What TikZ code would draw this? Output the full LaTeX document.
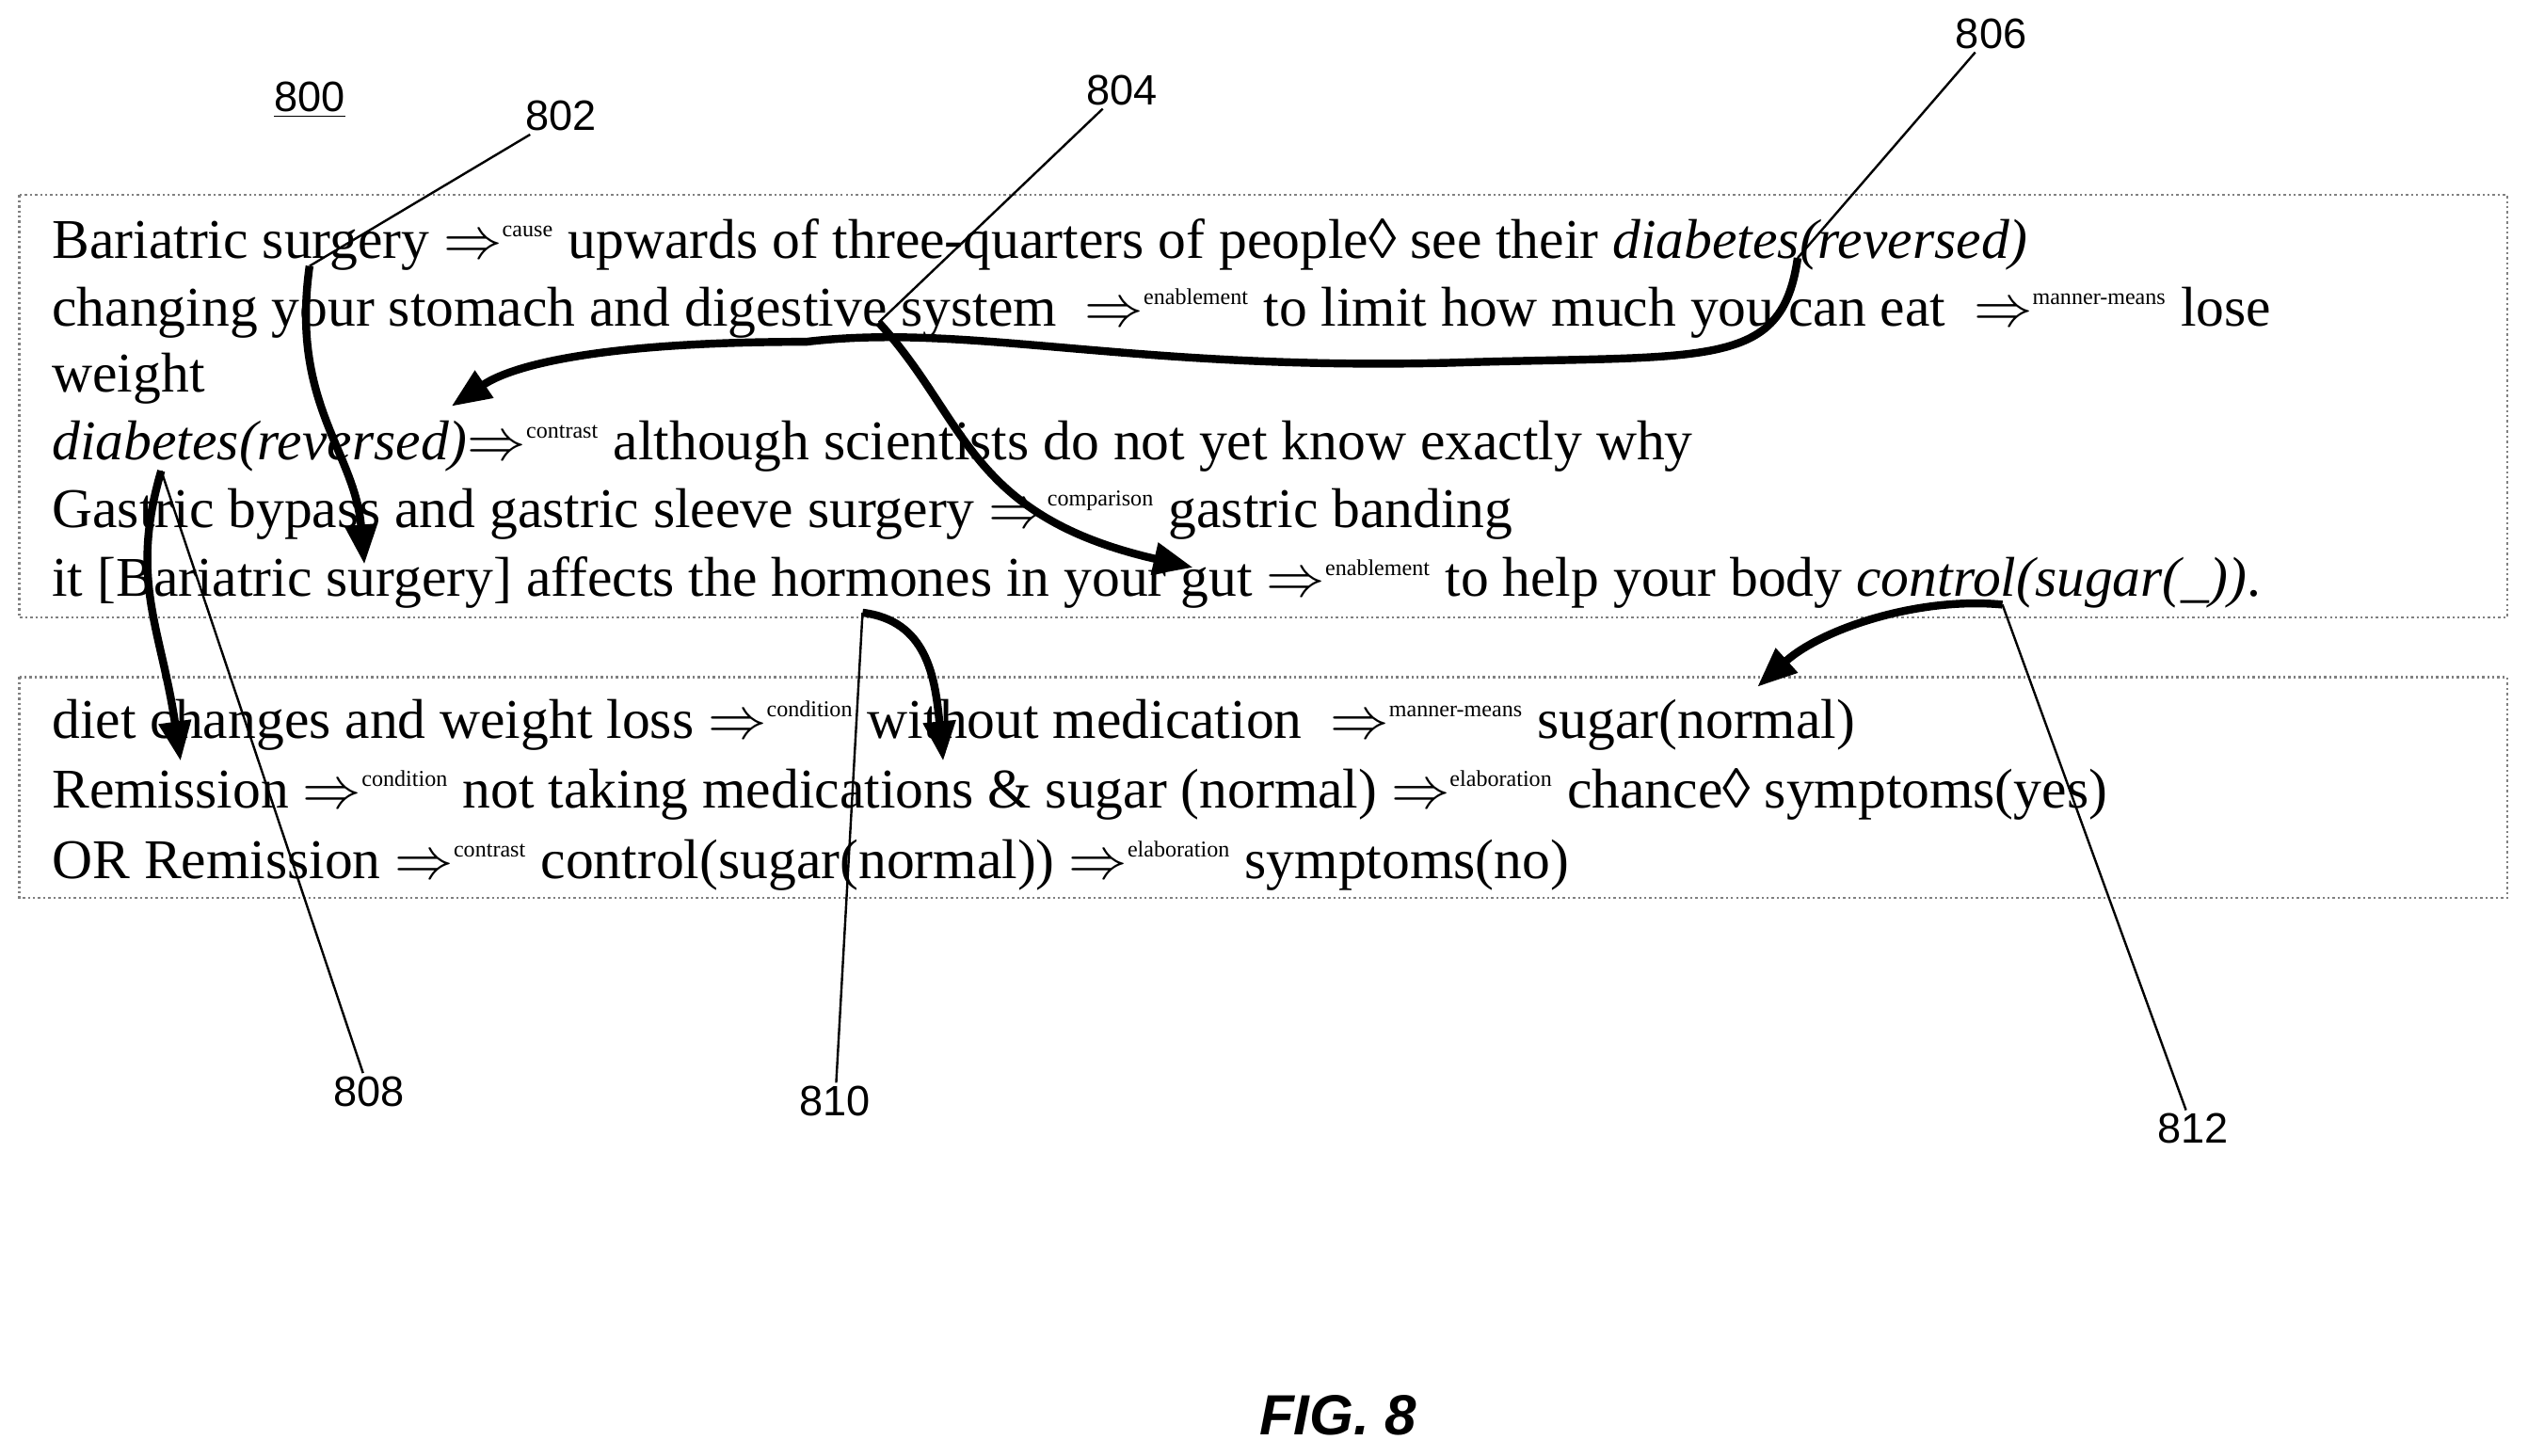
\documentclass[tikz,border=0pt]{standalone}
\usepackage{fontspec}
\setmainfont{Liberation Serif}
\newfontfamily\figfont{Liberation Sans}
\usetikzlibrary{arrows.meta}
\newcommand{\rel}[1]{$\Rightarrow$\textsuperscript{\footnotesize #1}}

\begin{document}
\begin{tikzpicture}[x=0.02cm,y=-0.02cm,
    txt/.style={anchor=base west,inner sep=0pt,font=\fontsize{19.8}{23}\selectfont},
    lbl/.style={inner sep=1pt,font=\figfont\fontsize{15}{18}\selectfont},
    frame/.style={draw=gray,densely dotted,line width=0.8pt},
    lead/.style={line width=0.8pt},
    link/.style={line width=2.8pt,-{Triangle[length=14pt,width=11pt]}}]
  \useasboundingbox (0,0) rectangle (1568,903);
  \draw[frame] (12,121) rectangle (1555,383);
  \draw[frame] (12,420) rectangle (1555,557);

  % upper box
  \node[txt] (l1) at (32,160) {Bariatric surgery \rel{cause} upwards of three-quarters of people◊ see their \textit{diabetes(reversed)}};
  \node[txt] (l2) at (32,202) {changing your stomach and digestive system \ \rel{enablement} to limit how much you can eat \ \rel{manner-means} lose};
  \node[txt] (l2b) at (32,243) {weight};
  \node[txt] (l3) at (32,285) {\textit{diabetes(reversed)}\rel{contrast} although scientists do not yet know exactly why};
  \node[txt] (l4) at (32,327) {Gastric bypass and gastric sleeve surgery \rel{comparison} gastric banding};
  \node[txt] (l5) at (32,370) {it [Bariatric surgery] affects the hormones in your gut \rel{enablement} to help your body \textit{control(sugar(\_))}.};
  % lower box
  \node[txt] (m1) at (32,458) {diet changes and weight loss \rel{condition} without medication \ \rel{manner-means} sugar(normal)};
  \node[txt] (m2) at (32,501) {Remission \rel{condition} not taking medications \& sugar (normal) \rel{elaboration} chance◊ symptoms(yes)};
  \node[txt] (m3) at (32,545) {OR Remission \rel{contrast} control(sugar(normal)) \rel{elaboration} symptoms(no)};

  % reference numerals
  \node[lbl] (n800) at (192,62) {\underline{800}};
  \node[lbl] (n802) at (348,72) {802};
  \node[lbl] (n804) at (696,56) {804};
  \node[lbl] (n806) at (1235,21) {806};
  \node[lbl] (n808) at (229,677) {808};
  \node[lbl] (n810) at (518,683) {810};
  \node[lbl] (n812) at (1360,700) {812};
  \node[font=\figfont\bfseries\itshape\fontsize{20}{24}\selectfont] (fig) at (830,878) {FIG. 8};

  \coordinate (p802) at (192,165);
  \coordinate (p804) at (545,200);
  \coordinate (p806) at (1115,160);
  \coordinate (p808) at (100,292);
  \coordinate (p810) at (535,380);
  \coordinate (p812) at (1242,375);

  \draw[lead] (n802) -- (p802);
  \draw[lead] (n804) -- (p804);
  \draw[lead] (n806) -- (p806);
  \draw[lead] (n808) -- (p808);
  \draw[lead] (n810) -- (p810);
  \draw[lead] (n812) -- (p812);

  \draw[link] (p802) .. controls (180,250) and (220,280) .. (226,350);
  \draw[link] (p804) .. controls (600,260) and (600,320) .. (740,352);
  \draw[link] (p806) .. controls (1105,230) and (1060,220) .. (900,225)
      .. controls (700,230) and (600,200) .. (500,212)
      .. controls (380,212) and (320,225) .. (280,252);
  \draw[link] (p808) .. controls (80,360) and (100,390) .. (112,472);
  \draw[link] (p810) .. controls (575,385) and (580,420) .. (585,472);
  \draw[link] (p812) .. controls (1190,370) and (1130,390) .. (1090,426);
\end{tikzpicture}
\end{document}
